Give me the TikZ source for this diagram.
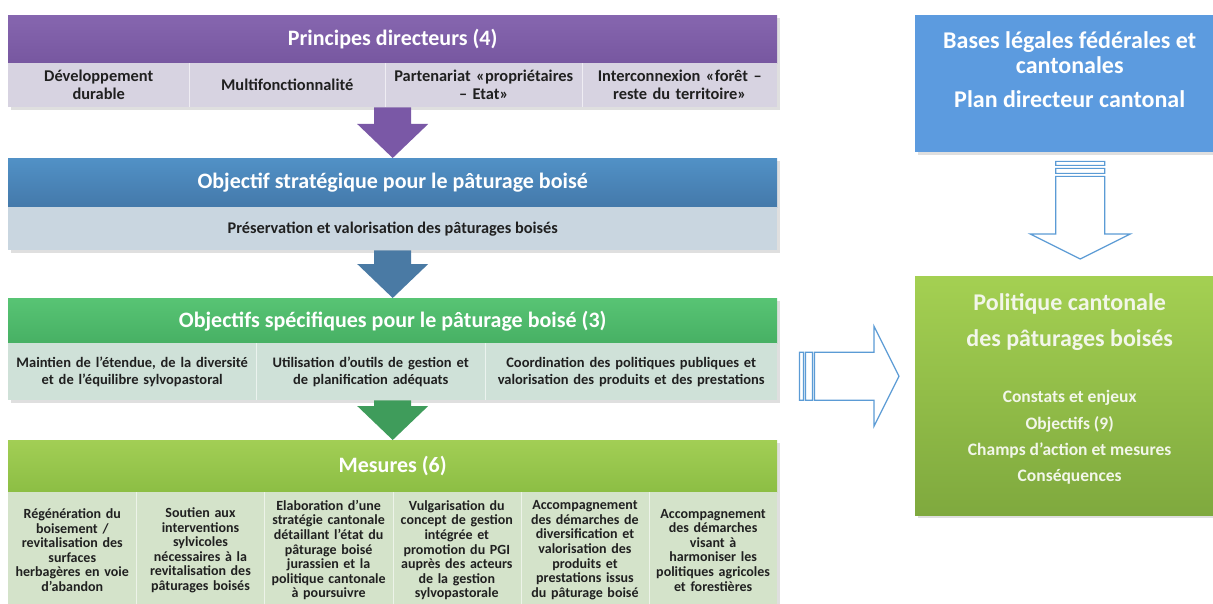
\documentclass[tikz,border=0pt]{standalone}
\usepackage{fontspec}
\setmainfont{Carlito}
\usetikzlibrary{calc,positioning,shadows}

\definecolor{prinA}{HTML}{8666AF}
\definecolor{prinB}{HTML}{7757A0}
\definecolor{prinbarc}{HTML}{D7D3E1}
\definecolor{prinarr}{HTML}{7A58A6}
\definecolor{stratA}{HTML}{5191C6}
\definecolor{stratB}{HTML}{4479AA}
\definecolor{stratbarc}{HTML}{C9D6E0}
\definecolor{stratarr}{HTML}{4A7AA4}
\definecolor{specA}{HTML}{58C474}
\definecolor{specB}{HTML}{47B064}
\definecolor{specbarc}{HTML}{CFE1D8}
\definecolor{specarr}{HTML}{3F9C5B}
\definecolor{mesA}{HTML}{A2CE55}
\definecolor{mesB}{HTML}{8CBE44}
\definecolor{mesbarc}{HTML}{D4E3CA}
\definecolor{basesc}{HTML}{5C9BDF}
\definecolor{politA}{HTML}{A4D052}
\definecolor{politB}{HTML}{7FA93E}
\definecolor{politext}{HTML}{F2F6E9}
\definecolor{outl}{HTML}{5B9BD5}
\definecolor{rowtext}{HTML}{202020}

\tikzset{
  head/.style={anchor=north west, inner sep=0pt, minimum width=769pt, text=white,
    font=\fontsize{22}{26}\selectfont\bfseries, drop shadow={opacity=0.25}},
  bar/.style={anchor=north west, inner sep=0pt, minimum width=769pt, drop shadow={opacity=0.25}},
  cell/.style={anchor=north west, inner sep=0pt, align=center, text=rowtext},
  divider/.style={draw=white, opacity=0.6, line width=0.8pt},
  outline arrow/.style={draw=outl, line width=1.2pt, fill=white},
}

\begin{document}
\begin{tikzpicture}[x=1pt, y=-1pt]
  \useasboundingbox (0,0) rectangle (1213,604);

  % principes directeurs
  \node[head, top color=prinA, bottom color=prinB, minimum height=48pt] (prinhead) at (8,15) {Principes directeurs (4)};
  \node[bar, fill=prinbarc, minimum height=44pt] (prinrow) at (8,63) {};
  \foreach \n/\x/\w/\t in {1/8/181/{Développement\\durable}, 2/189/196/{Multifonctionnalité},
      3/385/197/{Partenariat «propriétaires\\– Etat»}, 4/582/195/{Interconnexion «forêt –\\reste du territoire»}}
    \node[cell, font=\fontsize{16.4}{18}\selectfont\bfseries, text width=\w pt, minimum height=44pt] (prin\n) at (\x,63) {\t};
  \foreach \n in {1,2,3} \draw[divider] (prin\n.north east) -- (prin\n.south east);

  % objectif strategique
  \node[head, top color=stratA, bottom color=stratB, minimum height=49pt] (strathead) at (8,158) {Objectif stratégique pour le pâturage boisé};
  \node[bar, fill=stratbarc, minimum height=43pt, text=rowtext, font=\fontsize{16.3}{18}\selectfont\bfseries] (stratrow) at (8,207) {Préservation et valorisation des pâturages boisés};

  % objectifs specifiques
  \node[head, top color=specA, bottom color=specB, minimum height=45pt] (spechead) at (8,298) {Objectifs spécifiques pour le pâturage boisé (3)};
  \node[bar, fill=specbarc, minimum height=57pt] (specrow) at (8,343) {};
  \foreach \n/\x/\w/\t in {1/8/248/{Maintien de l’étendue, de la diversité\\et de l’équilibre sylvopastoral},
      2/256/229/{Utilisation d’outils de gestion et\\de planification adéquats},
      3/485/292/{Coordination des politiques publiques et\\valorisation des produits et des prestations}}
    \node[cell, font=\fontsize{14.5}{17}\selectfont\bfseries, text width=\w pt, minimum height=57pt] (spec\n) at (\x,343) {\t};
  \foreach \n in {1,2} \draw[divider] (spec\n.north east) -- (spec\n.south east);

  % mesures
  \node[head, top color=mesA, bottom color=mesB, minimum height=52pt] (meshead) at (8,440) {Mesures (6)};
  \node[bar, fill=mesbarc, minimum height=116pt] (mesrow) at (8,492) {};
  \foreach \n/\t in {1/{Régénération du\\boisement /\\revitalisation des\\surfaces\\herbagères en voie\\d’abandon},
      2/{Soutien aux\\interventions\\sylvicoles\\nécessaires à la\\revitalisation des\\pâturages boisés},
      3/{Elaboration d’une\\stratégie cantonale\\détaillant l’état du\\pâturage boisé\\jurassien et la\\politique cantonale\\à poursuivre},
      4/{Vulgarisation du\\concept de gestion\\intégrée et\\promotion du PGI\\auprès des acteurs\\de la gestion\\sylvopastorale},
      5/{Accompagnement\\des démarches de\\diversification et\\valorisation des\\produits et\\prestations issus\\du pâturage boisé},
      6/{Accompagnement\\des démarches\\visant à\\harmoniser les\\politiques agricoles\\et forestières}}{
    \pgfmathsetmacro\x{8+(\n-1)*128.17}
    \node[cell, font=\fontsize{14}{14.6}\selectfont\bfseries, text width=128.17pt, minimum height=116pt] (mes\n) at (\x,492) {\t};
  }
  \foreach \n in {1,...,5} \draw[divider] (mes\n.north east) -- (mes\n.south east);

  % block arrows between the levels
  \foreach \a/\b/\c in {prinrow/strathead/prinarr, stratrow/spechead/stratarr, specrow/meshead/specarr}
    \fill[\c] let \p1=(\a.south), \p2=(\b.north) in
      (\x1-18.5pt,\y1) -- (\x1+18.5pt,\y1) -- (\x1+18.5pt,\y2+34pt) -- (\x1+35.5pt,\y2+34pt)
      -- (\x1,\y2) -- (\x1-35.5pt,\y2+34pt) -- (\x1-18.5pt,\y2+34pt) -- cycle;

  % cadre cantonal
  \node[anchor=north west, fill=basesc, minimum width=309pt, minimum height=137pt, drop shadow={opacity=0.25}] (bases) at (915,15) {};
  \node[text=white, align=center, font=\fontsize{24}{25}\selectfont\bfseries] (basestext)
    at ($(bases.north)+(0,54.5)$) {Bases légales fédérales et\\cantonales\\[9pt]Plan directeur cantonal};

  \node[anchor=north west, top color=politA, bottom color=politB, minimum width=309pt, minimum height=239pt, drop shadow={opacity=0.25}] (polit) at (915,276) {};
  \node[text=politext, align=center, font=\fontsize{24}{36}\selectfont\bfseries] (polittitle)
    at ($(polit.north)+(0,46)$) {Politique cantonale\\des pâturages boisés};
  \node[text=politext, align=center, font=\fontsize{17.5}{26.3}\selectfont\bfseries] (politlist)
    at ($(polit.north)+(0,161.5)$) {Constats et enjeux\\Objectifs (9)\\Champs d’action et mesures\\Conséquences};

  % striped outline arrows
  \draw[outline arrow] let \p1=($(bases.south)+(10.5,0)$), \p2=(polit.north) in
    (\x1-24.5pt,\y1-24pt) -- (\x1-24.5pt,\y2+42pt) -- (\x1-50pt,\y2+42pt) -- (\x1,\y2+17pt)
    -- (\x1+50pt,\y2+42pt) -- (\x1+24.5pt,\y2+42pt) -- (\x1+24.5pt,\y1-24pt) -- cycle
    (\x1-24.5pt,\y1-9pt) rectangle (\x1+24.5pt,\y1-13pt)
    (\x1-24.5pt,\y1-16pt) rectangle (\x1+24.5pt,\y1-21pt);
  \draw[outline arrow] let \p1=($(specrow.east)+(0,4.5)$), \p2=(polit.west) in
    (\x1+37pt,\y1+24pt) -- (\x2-41pt,\y1+24pt) -- (\x2-41pt,\y1+50pt) -- (\x2-16pt,\y1)
    -- (\x2-41pt,\y1-50pt) -- (\x2-41pt,\y1-24pt) -- (\x1+37pt,\y1-24pt) -- cycle
    (\x1+22pt,\y1+24pt) rectangle (\x1+26pt,\y1-24pt)
    (\x1+28pt,\y1+24pt) rectangle (\x1+35pt,\y1-24pt);
\end{tikzpicture}
\end{document}
